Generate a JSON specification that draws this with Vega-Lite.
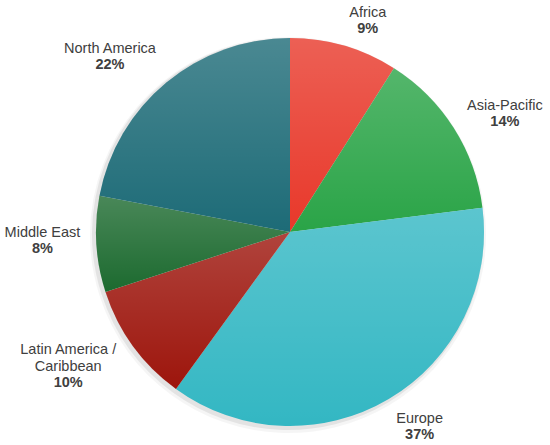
{
  "$schema": "https://vega.github.io/schema/vega-lite/v6.json",
  "width": 520,
  "height": 426,
  "autosize": {"type": "none"},
  "padding": {"left": 30, "top": 19, "right": 0, "bottom": 0},
  "background": "white",
  "view": {"stroke": null},
  "data": {
    "values": [
      {"region": "Africa", "label": "Africa", "pct": "9%", "share": 0.09},
      {"region": "Asia-Pacific", "label": "Asia-Pacific", "pct": "14%", "share": 0.14},
      {"region": "Europe", "label": "Europe", "pct": "37%", "share": 0.37},
      {"region": "Latin America / Caribbean", "label": "Latin America /\nCaribbean", "pct": "10%", "share": 0.10},
      {"region": "Middle East", "label": "Middle East", "pct": "8%", "share": 0.08},
      {"region": "North America", "label": "North America", "pct": "22%", "share": 0.22}
    ]
  },
  "encoding": {
    "theta": {"field": "share", "type": "quantitative", "stack": true},
    "detail": {"field": "region", "type": "nominal"},
    "order": {"field": "region", "type": "ordinal", "sort": "ascending"}
  },
  "layer": [
    {
      "mark": {"type": "arc", "outerRadius": 198, "fill": "#000000", "fillOpacity": 0.04, "xOffset": -2, "yOffset": 3},
      "encoding": {}
    },
    {
      "mark": {"type": "arc", "outerRadius": 196, "fill": "#000000", "fillOpacity": 0.07, "xOffset": -2, "yOffset": 2},
      "encoding": {}
    },
    {
      "mark": {"type": "arc", "outerRadius": 194, "strokeWidth": 0},
      "encoding": {
        "color": {
          "field": "region",
          "type": "nominal",
          "legend": null,
          "scale": {
            "domain": ["Africa", "Asia-Pacific", "Europe", "Latin America / Caribbean", "Middle East", "North America"],
            "range": ["#e8382a", "#2aa447", "#33b7c3", "#9d150c", "#1c6a2f", "#1d6b77"]
          }
        }
      }
    },
    {
      "mark": {
        "type": "arc",
        "outerRadius": 194,
        "strokeWidth": 0,
        "fill": {
          "gradient": "linear",
          "x1": 0, "y1": 0, "x2": 0, "y2": 1,
          "stops": [
            {"offset": 0, "color": "rgba(255,255,255,0.2)"},
            {"offset": 1, "color": "rgba(255,255,255,0)"}
          ]
        }
      },
      "encoding": {}
    },
    {
      "mark": {
        "type": "text",
        "font": "Liberation Sans",
        "fontSize": 14.5,
        "color": "#404040",
        "baseline": "bottom",
        "align": "center",
        "lineBreak": "\n",
        "lineHeight": 17,
        "radius": {"expr": "datum.region === 'Africa' ? 225 : datum.region === 'Asia-Pacific' ? 245 : datum.region === 'Europe' ? 233 : datum.region === 'Middle East' ? 247 : datum.region === 'North America' ? 251 : 263"},
        "dx": {"expr": "datum.region === 'Africa' ? 15 : datum.region === 'Asia-Pacific' ? 8 : datum.region === 'Europe' ? 11 : datum.region === 'Middle East' ? -1 : datum.region === 'North America' ? -20 : -9"},
        "dy": {"expr": "datum.region === 'Africa' ? 4 : datum.region === 'Asia-Pacific' ? 12 : datum.region === 'Europe' ? -7 : datum.region === 'Middle East' ? -8 : datum.region === 'North America' ? 17 : -30"}
      },
      "encoding": {
        "text": {"field": "label", "type": "nominal"}
      }
    },
    {
      "mark": {
        "type": "text",
        "font": "Liberation Sans",
        "fontSize": 14.5,
        "fontWeight": "bold",
        "color": "#404040",
        "baseline": "top",
        "align": "center",
        "radius": {"expr": "datum.region === 'Africa' ? 225 : datum.region === 'Asia-Pacific' ? 245 : datum.region === 'Europe' ? 233 : datum.region === 'Middle East' ? 247 : datum.region === 'North America' ? 251 : 263"},
        "dx": {"expr": "datum.region === 'Africa' ? 15 : datum.region === 'Asia-Pacific' ? 8 : datum.region === 'Europe' ? 11 : datum.region === 'Middle East' ? -1 : datum.region === 'North America' ? -20 : -9"},
        "dy": {"expr": "2 + (datum.region === 'Africa' ? 4 : datum.region === 'Asia-Pacific' ? 12 : datum.region === 'Europe' ? -7 : datum.region === 'Middle East' ? -8 : datum.region === 'North America' ? 17 : -13)"}
      },
      "encoding": {
        "text": {"field": "pct", "type": "nominal"}
      }
    }
  ]
}
